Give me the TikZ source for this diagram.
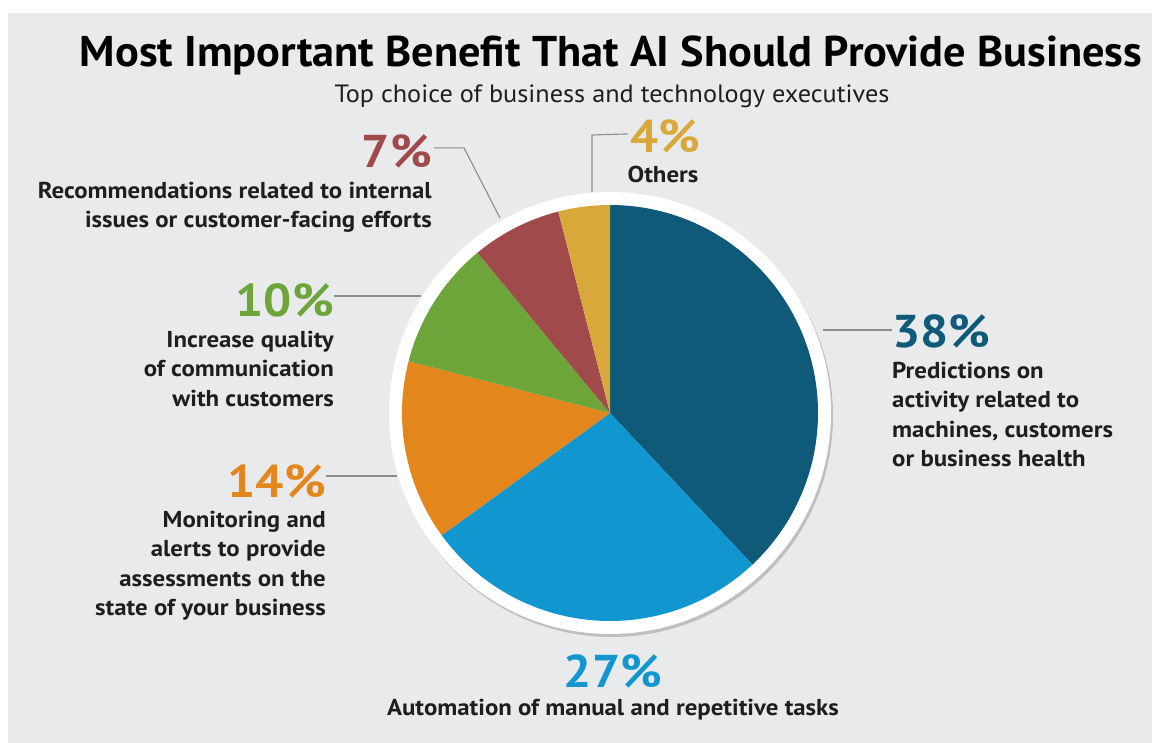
\documentclass[tikz,border=0pt]{standalone}
\usepackage{fontspec}
\setmainfont{PT Sans}
\newfontfamily\labelfont[FakeStretch=1.08]{PT Sans}
\usepackage{graphicx}
\usetikzlibrary{positioning}

\definecolor{bggray}{HTML}{E9EAEC}
\definecolor{piedark}{HTML}{0F5A78}
\definecolor{pieblue}{HTML}{1296CF}
\definecolor{pieorange}{HTML}{E3861B}
\definecolor{piegreen}{HTML}{6DA53A}
\definecolor{piered}{HTML}{A14A4B}
\definecolor{pieyellow}{HTML}{D8A93A}
\definecolor{inkgray}{HTML}{1E1E1E}
\definecolor{leadgray}{HTML}{8A8C90}

\tikzset{
    pct/.style={inner sep=0pt, font=\labelfont\fontsize{46}{48}\selectfont\bfseries},
    txt/.style={inner sep=0pt, text=inkgray, font=\labelfont\fontsize{23}{29.5}\selectfont\bfseries},
    leader/.style={leadgray, line width=1.1pt}
}

\begin{document}
\begin{tikzpicture}[x=1pt, y=1pt]
    % Definitions
    \coordinate (origo) at (610,-413);
    \def \pieradius{208pt}
    \def \ringradius{221pt}
    %%%
    %%% Background
    %%%
    \useasboundingbox (0,0) rectangle (1152,-743);
    \fill[white] (0,0) rectangle (1152,-743);
    \fill[bggray] (8,-13) rectangle (1152,-743);
    %%%
    %%% Title
    %%%
    \node[inner sep=0pt, anchor=base, font=\fontsize{43}{46}\selectfont\bfseries] (title) at (611,-67)
        {\scalebox{1.03}[1]{Most Important Benefit That AI Should Provide Business}};
    \node[inner sep=0pt, anchor=base, text=inkgray, font=\fontsize{25}{28}\selectfont] (subtitle) at (612,-103)
        {\scalebox{1.05}[1]{Top choice of business and technology executives}};
    %%%
    %%% Pie
    %%%
    % Shadow and white ring
    \fill[black!25] (origo) ++(2,-3) circle (\ringradius);
    \fill[white] (origo) circle (\ringradius);
    % Slices
    \foreach \start/\stop/\col in {90/-46.8/piedark, -46.8/-144/pieblue, -144/-194.4/pieorange,
        -194.4/-230.4/piegreen, -230.4/-255.6/piered, -255.6/-270/pieyellow}
    {
        \fill[\col] (origo) -- ++(\start:\pieradius) arc (\start:\stop:\pieradius) -- cycle;
    }
    % Leader ends on the ring
    \coordinate (end38) at (823,-330);
    \coordinate (end7) at (500,-218);
    \coordinate (end4) at (592,-192);
    \coordinate (end10) at (421,-296);
    \coordinate (end14) at (397,-476);
    %%%
    %%% Labels
    %%%
    % 38%
    \node[pct, text=piedark, anchor=base west] (n38) at (892,-348) {38\%};
    \node[txt, align=left, below=13pt of n38.south west, anchor=north west] (t38)
        {Predictions on\\activity related to\\machines, customers\\or business health};
    % 27%
    \node[pct, text=pieblue, anchor=base] (n27) at (613,-687) {27\%};
    \node[txt, anchor=base] (t27) at (613,-715) {Automation of manual and repetitive tasks};
    % 14%
    \node[pct, text=pieorange, anchor=base east] (n14) at (326,-497) {14\%};
    \node[txt, align=right, below=13pt of n14.south east, anchor=north east] (t14)
        {Monitoring and\\alerts to provide\\assessments on the\\state of your business};
    % 10%
    \node[pct, text=piegreen, anchor=base east] (n10) at (334,-317) {10\%};
    \node[txt, align=right, below=13pt of n10.south east, anchor=north east] (t10)
        {Increase quality\\of communication\\with customers};
    % 7%
    \node[pct, text=piered, anchor=base east] (n7) at (432,-168) {7\%};
    \node[txt, align=right, below=13pt of n7.south east, anchor=north east] (t7)
        {Recommendations related to internal\\issues or customer-facing efforts};
    % 4%
    \node[pct, text=pieyellow, anchor=base] (n4) at (665,-153) {4\%};
    \node[txt, anchor=base] (t4) at (663,-183) {Others};
    %%%
    %%% Leader lines
    %%%
    \draw[leader] (n38.west |- end38) -- (end38);
    \draw[leader] (n10.east |- end10) -- (end10);
    \draw[leader] (n14.east |- end14) -- (end14);
    \draw[leader] (n7.east) ++(2,4) -- ++(30,0) -- (end7);
    \draw[leader] (n4.west) ++(-2,3) -- (end4 |- 0,-135) -- (end4);
\end{tikzpicture}
\end{document}
